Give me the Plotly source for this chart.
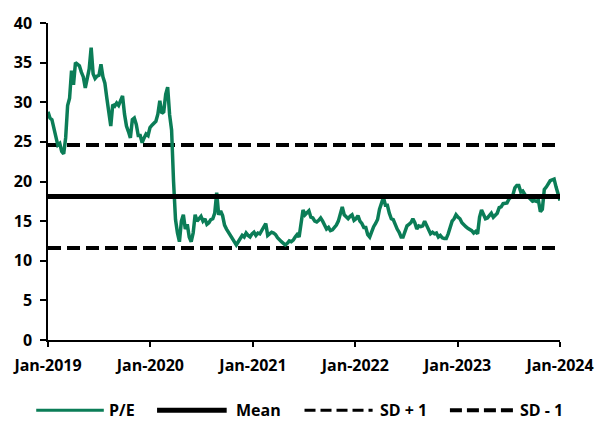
import pandas as pd
import plotly.graph_objects as go

# Weekly price-to-earnings ratio, Jan-2019 .. Jan-2024
pe_values = [
    28.8, 28.0, 27.8, 26.8, 25.6, 24.6, 24.8, 23.8, 23.5, 25.5,
    29.6, 30.5, 34.0, 32.2, 35.0, 34.8, 34.6, 33.8, 33.2, 31.8,
    33.0, 34.2, 36.9, 33.6, 33.0, 33.3, 33.4, 34.8, 33.2, 32.4,
    30.5, 28.6, 27.0, 29.7, 29.5, 29.9, 29.6, 30.2, 30.8, 28.5,
    27.0, 26.3, 25.5, 27.8, 28.0, 27.2, 25.8, 25.8, 24.9, 25.5,
    26.0, 25.8, 26.8, 27.1, 27.3, 27.6, 28.5, 30.2, 28.6, 28.8,
    31.0, 31.9, 28.4, 26.5, 20.0, 15.2, 13.5, 12.4, 15.0, 15.8,
    14.0, 14.6, 13.0, 12.4, 13.5, 15.8, 15.0, 15.3, 15.6, 15.0,
    15.3, 14.6, 14.8, 15.2, 15.3, 16.0, 18.6, 15.8, 16.3, 15.7,
    14.5, 14.0, 13.6, 13.3, 12.8, 12.3, 12.0, 12.4, 12.9, 13.2,
    13.0, 13.5, 13.2, 13.0, 13.4, 13.6, 13.2, 13.5, 13.4, 13.8,
    14.2, 14.7, 13.2, 13.4, 13.6, 13.5, 13.3, 12.9, 12.6, 12.4,
    12.2, 12.0, 12.2, 12.5, 12.4, 12.6, 13.0, 13.3, 13.0, 14.5,
    16.4, 15.8, 16.0, 16.3, 15.5, 15.4, 15.0, 14.9, 15.1, 15.4,
    15.0, 14.5, 14.0, 14.2, 13.8, 13.9, 14.2, 14.5, 15.0, 16.0,
    16.8, 15.8, 15.6, 15.3, 15.6, 15.8, 15.1, 15.3, 15.7, 15.0,
    14.7, 14.2, 14.2, 13.3, 13.0, 13.7, 14.3, 14.7, 15.2, 16.5,
    17.3, 18.0, 17.0, 17.0, 16.0, 15.3, 15.2, 14.5, 14.0, 13.6,
    13.0, 13.0, 13.8, 14.4, 14.6, 14.8, 15.3, 14.8, 14.0, 14.4,
    14.3, 14.4, 15.0, 14.5, 14.0, 13.4, 13.6, 13.4, 13.5, 13.0,
    13.2, 12.9, 12.8, 12.8, 13.4, 14.2, 15.0, 15.3, 15.8, 15.5,
    15.3, 14.8, 14.5, 14.3, 14.1, 14.0, 13.8, 13.5, 13.7, 13.4,
    15.5, 16.4, 15.8, 15.3, 15.4, 15.8, 16.0, 15.5, 15.8, 16.0,
    16.7, 16.8, 17.2, 17.2, 17.3, 17.8, 18.0, 18.3, 19.2, 19.5,
    19.5, 18.7, 18.8, 18.4, 18.0, 18.0, 17.7, 17.5, 17.6, 17.5,
    17.6, 16.2, 16.5, 19.0, 19.3, 19.8, 20.1, 20.2, 20.3, 19.3,
    18.6, 17.6,
]
pe_dates = pd.date_range("2019-01-01", "2024-01-01", periods=len(pe_values))

pe_mean = 18.1
pe_sd = 6.5

y_ticks = [0, 5, 10, 15, 20, 25, 30, 35, 40]
x_tick_dates = ["2019-01-01", "2020-01-01", "2021-01-01",
                "2022-01-01", "2023-01-01", "2024-01-01"]
x_tick_labels = ["Jan-2019", "Jan-2020", "Jan-2021",
                 "Jan-2022", "Jan-2023", "Jan-2024"]

GREEN = "#0B7D57"
FONT = dict(family="Open Sans", size=16, color="#000000")
span = [pe_dates[0], pe_dates[-1]]

fig = go.Figure()
fig.add_trace(go.Scatter(x=span, y=[pe_mean + pe_sd] * 2, mode="lines",
                         name="SD + 1",
                         line=dict(color="black", width=4, dash="13px,6px")))
fig.add_trace(go.Scatter(x=span, y=[pe_mean - pe_sd] * 2, mode="lines",
                         name="SD - 1",
                         line=dict(color="black", width=4, dash="13px,6px")))
fig.add_trace(go.Scatter(x=pe_dates, y=pe_values, mode="lines", name="P/E",
                         line=dict(color=GREEN, width=3.5)))
fig.add_trace(go.Scatter(x=span, y=[pe_mean] * 2, mode="lines", name="Mean",
                         line=dict(color="black", width=5)))

# hand-built legend row beneath the axis
legend_row_y = -0.222
legend_entries = [
    ("P/E", -0.023, 0.109, 0.116, dict(color=GREEN, width=3)),
    ("Mean", 0.213, 0.349, 0.364, dict(color="black", width=5)),
    ("SD + 1", 0.501, 0.634, 0.644, dict(color="black", width=3, dash="11px,5px")),
    ("SD - 1", 0.785, 0.911, 0.918, dict(color="black", width=4, dash="12px,5px")),
]
shapes = []
annotations = []
for label, x0, x1, xt, line in legend_entries:
    shapes.append(dict(type="line", xref="paper", yref="paper",
                       x0=x0, x1=x1, y0=legend_row_y, y1=legend_row_y, line=line))
    annotations.append(dict(text="<b>%s</b>" % label, xref="paper", yref="paper",
                            x=xt, y=legend_row_y, xanchor="left", yanchor="middle",
                            showarrow=False, font=FONT))

fig.update_layout(
    width=606, height=421,
    margin=dict(l=45, r=36, t=20, b=81),
    paper_bgcolor="white", plot_bgcolor="white",
    showlegend=False,
    font=FONT,
    shapes=shapes,
    annotations=annotations,
)
fig.update_xaxes(
    range=["2019-01-01", "2024-01-01"],
    tickvals=x_tick_dates, ticktext=["<b>%s</b>" % t for t in x_tick_labels],
    ticks="outside", ticklen=5, tickwidth=1.5, tickcolor="black",
    ticklabelstandoff=5,
    showline=True, linecolor="black", linewidth=1.5,
    showgrid=False, zeroline=False, tickfont=FONT,
)
fig.update_yaxes(
    range=[0, 40],
    tickvals=y_ticks, ticktext=["<b>%d</b>" % v for v in y_ticks],
    ticks="outside", ticklen=6, tickwidth=1.5, tickcolor="black",
    ticklabelstandoff=5,
    showline=True, linecolor="black", linewidth=1.5,
    showgrid=False, zeroline=False, tickfont=FONT,
)

fig.write_html("out.html")
